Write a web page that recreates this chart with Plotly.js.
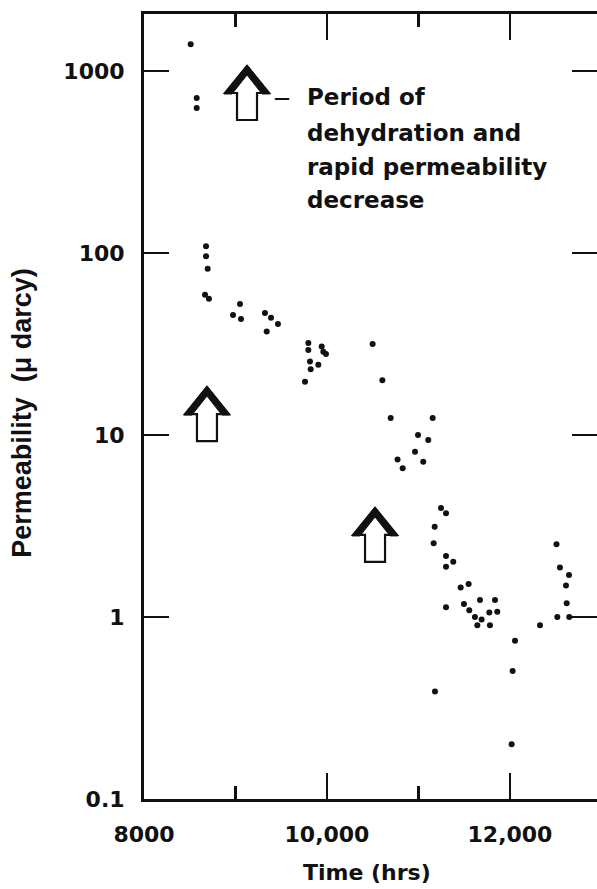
<!DOCTYPE html>
<html>
<head>
<meta charset="utf-8">
<script src="https://cdn.plot.ly/plotly-3.0.1.min.js"></script>
<style>html,body{margin:0;padding:0;background:#fff;}#chart{width:597px;height:889px;}</style>
</head>
<body>
<div id="chart"></div>
<script>
// Time (hrs)
var timeHrs = [8510, 8576, 8576, 8678, 8678, 8696, 8667, 8710, 9049, 8973,
  9060, 9322, 9388, 9464, 9341, 9796, 9796, 9942, 9960, 9989,
  9814, 9905, 9822, 9760, 10499, 10605, 10696, 11155, 10995, 11107,
  10962, 11052, 10771, 10827, 11246, 11301, 11177, 11166, 11301, 11380,
  11301, 11461, 11548, 11301, 11497, 11555, 11672, 11836, 11617, 11690,
  11774, 11861, 11643, 11781, 12328, 12055, 12029, 11180, 12018, 12508,
  12546, 12645, 12612, 12620, 12517, 12648];
// Permeability (micro darcy)
var permeability = [1400, 710, 625, 109, 96, 82, 59, 56, 52.5, 45.6,
  43.4, 46.8, 44, 40.7, 37, 32, 29.3, 30.6, 28.7, 27.9,
  25.3, 24.3, 23, 19.6, 31.6, 20, 12.4, 12.4, 10, 9.4,
  8.1, 7.13, 7.34, 6.56, 3.97, 3.72, 3.13, 2.54, 2.16, 2.01,
  1.89, 1.45, 1.52, 1.13, 1.18, 1.09, 1.24, 1.24, 1.0, 0.97,
  1.06, 1.07, 0.90, 0.90, 0.90, 0.74, 0.505, 0.39, 0.20, 2.51,
  1.87, 1.70, 1.49, 1.19, 1.0, 1.0];

var xTickVals = [8000, 10000, 12000];
var xTickText = ['8000', '10,000', '12,000'];
var xMinorVals = [9000, 11000];
var yTickVals = [0.1, 1, 10, 100, 1000];
var yTickText = ['0.1', '1', '10', '100', '1000'];

var noteLines = ['Period of', 'dehydration and', 'rapid permeability', 'decrease'];

var tickFont = {family: 'DejaVu Sans', size: 22, color: '#111', weight: 'bold'};

// arrow outline (pixels, relative to bottom-centre of stem)
function arrowShapes(xp, yp) {
  var outline = 'M -10,0 L 10,0 L 10,27 L 22,27 L 0,54 L -22,27 L -10,27 Z';
  var chevron = 'M -23,26 L 0,55 L 23,26 L 15,26 L 0,45 L -15,26 Z';
  var base = {xref: 'paper', yref: 'paper', xsizemode: 'pixel', ysizemode: 'pixel',
    xanchor: xp, yanchor: yp, layer: 'above'};
  return [
    Object.assign({type: 'path', path: outline, fillcolor: '#fff', line: {color: '#111', width: 2.2}}, base),
    Object.assign({type: 'path', path: chevron, fillcolor: '#111', line: {color: '#111', width: 1}}, base)
  ];
}

var shapes = [].concat(arrowShapes(0.2274, 0.865), arrowShapes(0.139, 0.456), arrowShapes(0.51, 0.302));

var annFont = {family: 'DejaVu Sans', size: 23, color: '#111', weight: 'bold'};
var lineY = [0.894, 0.848, 0.805, 0.763];
var annotations = noteLines.map(function (t, i) {
  return {xref: 'paper', yref: 'paper', x: 0.3554, y: lineY[i], xanchor: 'left', yanchor: 'middle',
    text: t, showarrow: false, font: annFont};
});
annotations.push({xref: 'paper', yref: 'paper', x: 0.2825, y: 0.894, xanchor: 'left', yanchor: 'middle',
  text: '—', showarrow: false, font: {family: 'DejaVu Sans', size: 16, color: '#111', weight: 'bold'}});
annotations.push({xref: 'paper', yref: 'paper', x: 0.492, y: 0, yshift: -73, xanchor: 'center', yanchor: 'middle',
  text: 'Time (hrs)', showarrow: false, font: {family: 'DejaVu Sans', size: 22, color: '#111', weight: 'bold'}});
annotations.push({xref: 'paper', yref: 'paper', x: 0, xshift: -122, y: 0.492, xanchor: 'center', yanchor: 'middle',
  textangle: -90, text: 'Permeability  (μ darcy)', showarrow: false,
  font: {family: 'Liberation Sans, Arial', size: 27, color: '#111', weight: 'bold'}});

var trace = {
  x: timeHrs, y: permeability, type: 'scatter', mode: 'markers',
  marker: {color: '#111', size: 6}, hoverinfo: 'skip'
};

var layout = {
  width: 597, height: 889,
  margin: {l: 144, r: 0, t: 14, b: 90},
  paper_bgcolor: '#fff', plot_bgcolor: '#fff',
  showlegend: false,
  xaxis: {
    range: [8000, 12951], showgrid: false, zeroline: false,
    showline: true, linecolor: '#111', linewidth: 3, mirror: 'ticks',
    ticks: 'inside', ticklen: 26, tickwidth: 2.5, tickcolor: '#111',
    tickmode: 'array', tickvals: xTickVals, ticktext: xTickText,
    minor: {tickmode: 'array', tickvals: xMinorVals, ticks: 'inside', ticklen: 13, tickwidth: 2.5, tickcolor: '#111', showgrid: false},
    tickfont: tickFont, ticklabelstandoff: 14
  },
  yaxis: {
    type: 'log', range: [-1, 3.313], showgrid: false, zeroline: false,
    showline: true, linecolor: '#111', linewidth: 3, mirror: 'ticks',
    ticks: 'inside', ticklen: 25, tickwidth: 2.5, tickcolor: '#111',
    tickmode: 'array', tickvals: yTickVals, ticktext: yTickText,
    tickfont: tickFont, ticklabelstandoff: 12
  },
  shapes: shapes,
  annotations: annotations
};

Plotly.newPlot('chart', [trace], layout, {staticPlot: true, displayModeBar: false});
</script>
</body>
</html>
